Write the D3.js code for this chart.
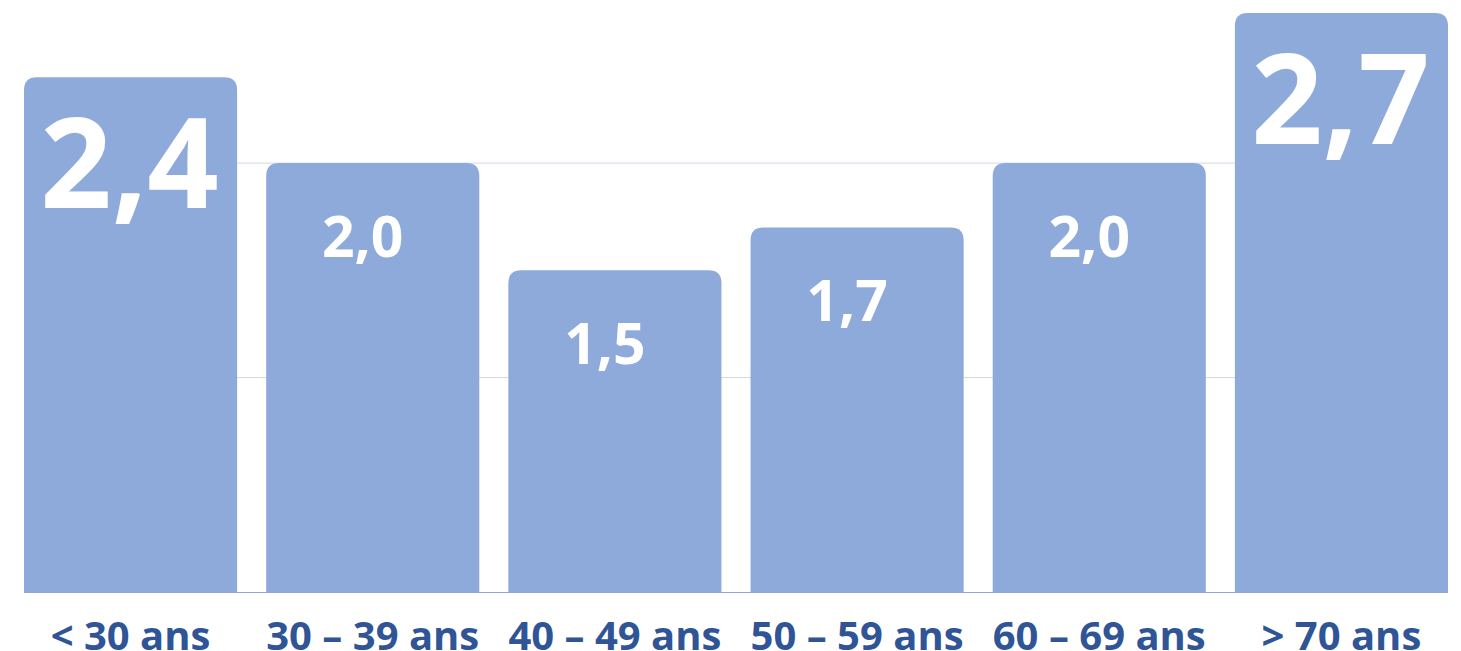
<!DOCTYPE html>
<html>
<head>
<meta charset="utf-8">
<script src="https://cdn.jsdelivr.net/npm/d3@7"></script>
<style>
html,body{margin:0;padding:0;background:#fff;overflow:hidden;}
svg{display:block;}
</style>
</head>
<body>
<svg id="chart" width="1461" height="651"></svg>
<script>
const categories = ["< 30 ans", "30 – 39 ans", "40 – 49 ans", "50 – 59 ans", "60 – 69 ans", "> 70 ans"];
const values = [2.4, 2.0, 1.5, 1.7, 2.0, 2.7];
const valueLabels = ["2,4", "2,0", "1,5", "1,7", "2,0", "2,7"];
const highlighted = [true, false, false, false, false, true];
const gridTicks = [1, 2];

const svg = d3.select("#chart");
const x = d3.scaleBand().domain(categories).range([24, 1448]).paddingInner(0.12).paddingOuter(0);
const y = d3.scaleLinear().domain([0, 2.7]).range([592, 13]);

// gridlines
svg.append("g").selectAll("line").data(gridTicks).join("line")
  .attr("x1", 24).attr("x2", 1448)
  .attr("y1", d => y(d)).attr("y2", d => y(d))
  .attr("stroke", "#D3D9E4").attr("stroke-width", 1);

const r = 13;
function barPath(d, i) {
  const x0 = x(categories[i]), x1 = x0 + x.bandwidth();
  const yt = y(d), yb = y(0);
  return `M${x0},${yb}V${yt + r}Q${x0},${yt} ${x0 + r},${yt}H${x1 - r}Q${x1},${yt} ${x1},${yt + r}V${yb}Z`;
}
svg.append("g").selectAll("path").data(values).join("path")
  .attr("d", barPath)
  .attr("fill", "#8EAADB");

// baseline
svg.append("line").attr("x1", 24).attr("x2", 1448)
  .attr("y1", y(0) + 0.5).attr("y2", y(0) + 0.5)
  .attr("stroke", "#8EA6D8").attr("stroke-width", 1.2);

// value labels
svg.append("g").selectAll("text").data(values).join("text")
  .attr("x", (d, i) => x(categories[i]) + x.bandwidth() / 2 + (highlighted[i] ? -1 : -10))
  .attr("y", (d, i) => y(d) + (highlighted[i] ? 131 : 94))
  .attr("text-anchor", "middle")
  .attr("font-family", "'Open Sans', sans-serif")
  .attr("font-weight", 700)
  .attr("font-size", (d, i) => highlighted[i] ? 125 : 57)
  .attr("fill", "#ffffff")
  .text((d, i) => valueLabels[i]);

// category axis labels
svg.append("g").selectAll("text").data(categories).join("text")
  .attr("x", d => x(d) + x.bandwidth() / 2)
  .attr("y", 650)
  .attr("text-anchor", "middle")
  .attr("font-family", "'Open Sans', sans-serif")
  .attr("font-weight", 700)
  .attr("font-size", 40)
  .attr("fill", "#2F5597")
  .text(d => d);
</script>
</body>
</html>
